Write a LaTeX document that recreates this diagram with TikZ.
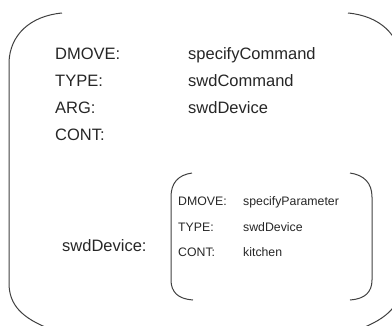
\documentclass[tikz,border=0pt]{standalone}
\usepackage{fontspec}
\setmainfont{Liberation Sans}
\begin{document}
\begin{tikzpicture}[x=1pt,y=-1pt,
  bracket/.style={draw=black!75, line width=1pt},
  outerlabel/.style={anchor=base west, inner sep=0pt, text=black!85, font=\fontsize{16.5}{18}\selectfont},
  innerlabel/.style={anchor=base west, inner sep=0pt, text=black!85, font=\fontsize{12.3}{14}\selectfont}]
\useasboundingbox (0,0) rectangle (392,325);

% outer feature structure brackets (right side runs past the frame)
\begin{scope}
  \clip (0,0) rectangle (392,325);
  \draw[bracket] (62,13) .. controls (30,16) and (10,35) .. (9,62)
                 -- (9,283) .. controls (9,305) and (22,318) .. (50,329);
  \draw[bracket] (348,13) .. controls (380,16) and (400,35) .. (401,62)
                 -- (401,283) .. controls (401,305) and (388,318) .. (360,329);
\end{scope}

% inner feature structure brackets
\draw[bracket] (192,173) .. controls (178,175) and (171,183) .. (171,197)
               -- (171,280) .. controls (171,292) and (178,299) .. (193,300);
\draw[bracket] (350,173) .. controls (364,175) and (372,183) .. (372,197)
               -- (372,280) .. controls (372,292) and (365,299) .. (350,300);

% outer attributes and values
\node[outerlabel] (dmove)   at (55,59)  {DMOVE:};
\node[outerlabel] (dmovev)  at (188,59) {specifyCommand};
\node[outerlabel] (type)    at (55,86)  {TYPE:};
\node[outerlabel] (typev)   at (188,86) {swdCommand};
\node[outerlabel] (arg)     at (55,113) {ARG:};
\node[outerlabel] (argv)    at (188,113) {swdDevice};
\node[outerlabel] (cont)    at (55,140) {CONT:};
\node[outerlabel] (dev)     at (62,251) {swdDevice:};

% inner attributes and values
\node[innerlabel] (idmove)  at (178,205.5) {DMOVE:};
\node[innerlabel] (idmovev) at (243,205.5) {specifyParameter};
\node[innerlabel] (itype)   at (178,231.5) {TYPE:};
\node[innerlabel] (itypev)  at (243,231.5) {swdDevice};
\node[innerlabel] (icont)   at (178,256.5) {CONT:};
\node[innerlabel] (icontv)  at (243,256.5) {kitchen};
\end{tikzpicture}
\end{document}
